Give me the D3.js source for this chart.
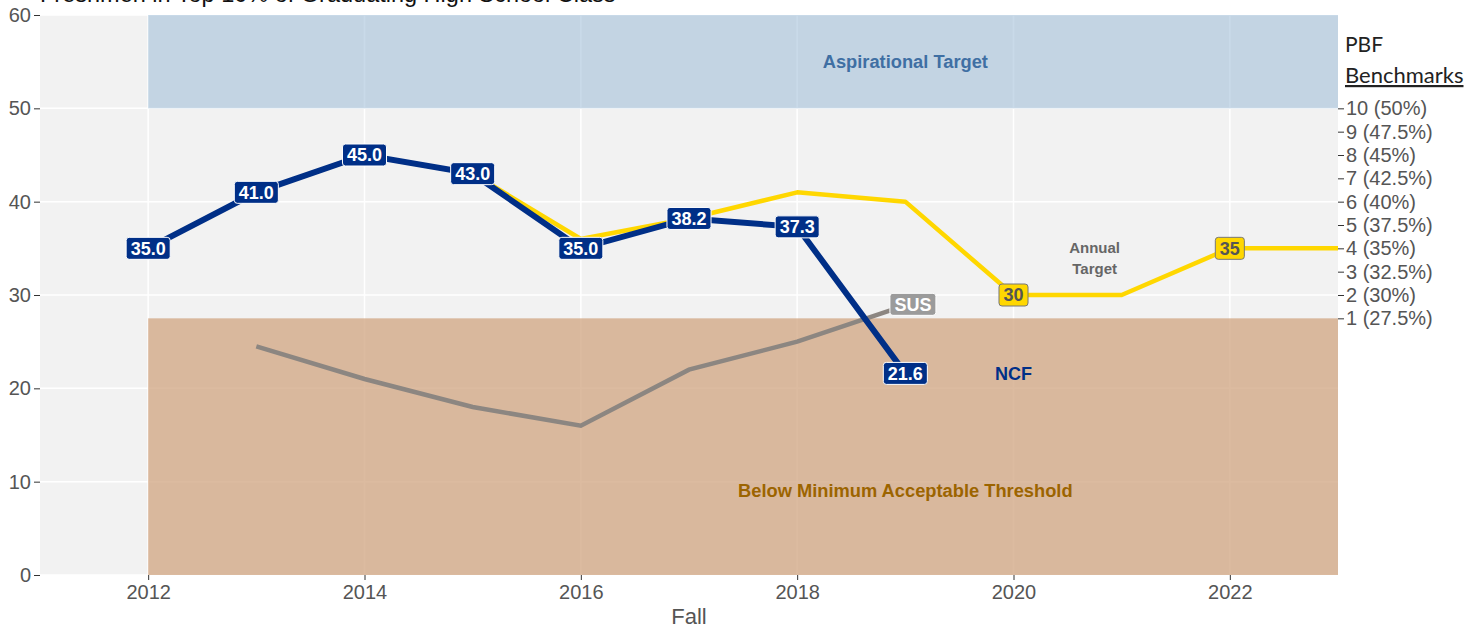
<!DOCTYPE html>
<html>
<head>
<meta charset="utf-8">
<script src="https://cdn.jsdelivr.net/npm/d3@7"></script>
<style>
body { margin: 0; background: #fff; }
svg { font-family: "Liberation Sans", Arial, sans-serif; }
</style>
</head>
<body>
<svg id="chart"></svg>
<script>
var screen = {width: 1467, height: 628};
var margins = {top: 15, right: 129, bottom: 53, left: 40};

// data
var ncfYears = [2012, 2013, 2014, 2015, 2016, 2017, 2018, 2019];
var ncfValues = [35.0, 41.0, 45.0, 43.0, 35.0, 38.2, 37.3, 21.6];
var targetYears = [2012, 2013, 2014, 2015, 2016, 2017, 2018, 2019, 2020, 2021, 2022, 2023];
var targetValues = [35, 41, 45, 43, 36, 38.2, 41, 40, 30, 30, 35, 35];
var susYears = [2013, 2014, 2015, 2016, 2017, 2018, 2019];
var susValues = [24.5, 21, 18, 16, 22, 25, 28.9];
var targetLabelYears = [2020, 2022];
var benchValues = [27.5, 30, 32.5, 35, 37.5, 40, 42.5, 45, 47.5, 50];
var benchLabels = ["1 (27.5%)", "2 (30%)", "3 (32.5%)", "4 (35%)", "5 (37.5%)", "6 (40%)", "7 (42.5%)", "8 (45%)", "9 (47.5%)", "10 (50%)"];
var yTicks = [0, 10, 20, 30, 40, 50, 60];
var xTicks = [2012, 2014, 2016, 2018, 2020, 2022];
var bands = [
  {name: "Aspirational Target", y0: 50, y1: 60, x0: 2012, x1: 2023},
  {name: "Below Minimum Acceptable Threshold", y0: 0, y1: 27.5, x0: 2012, x1: 2023}
];

var width = screen.width - margins.left - margins.right;
var height = screen.height - margins.top - margins.bottom;

var svg = d3.select("#chart")
  .attr("width", screen.width)
  .attr("height", screen.height);

var xScale = d3.scaleLinear().domain([2011, 2023]).range([0, width]);
var yScale = d3.scaleLinear().domain([0, 60]).range([height, 0]);

var g = svg.append("g")
  .attr("transform", "translate(" + margins.left + "," + margins.top + ")");

// panel + grid
g.append("rect").attr("width", width).attr("height", height).attr("fill", "#f2f2f2");
g.selectAll(".hgrid").data(yTicks).enter().append("line")
  .attr("x1", 0).attr("x2", width)
  .attr("y1", function(d) { return yScale(d); })
  .attr("y2", function(d) { return yScale(d); })
  .attr("stroke", "#fff").attr("stroke-width", 1.5);
g.selectAll(".vgrid").data(xTicks).enter().append("line")
  .attr("y1", 0).attr("y2", height)
  .attr("x1", function(d) { return xScale(d); })
  .attr("x2", function(d) { return xScale(d); })
  .attr("stroke", "#fff").attr("stroke-width", 1.5);

// bands
var bandColors = ["rgba(157,188,215,0.55)", "rgba(208,164,128,0.75)"];
g.selectAll(".band").data(bands).enter().append("rect")
  .attr("x", function(d) { return xScale(d.x0); })
  .attr("width", function(d) { return xScale(d.x1) - xScale(d.x0); })
  .attr("y", function(d) { return yScale(d.y1); })
  .attr("height", function(d) { return yScale(d.y0) - yScale(d.y1); })
  .attr("fill", function(d, i) { return bandColors[i]; });

// axes
var xAxis = d3.axisBottom(xScale).tickValues(xTicks).tickFormat(d3.format("d")).tickSize(5).tickPadding(5);
var yAxis = d3.axisLeft(yScale).tickValues(yTicks).tickSize(6).tickPadding(3);
var rAxis = d3.axisRight(yScale).tickValues(benchValues)
  .tickFormat(function(d, i) { return benchLabels[i]; }).tickSize(6).tickPadding(2);

function styleAxis(sel) {
  sel.select(".domain").remove();
  sel.selectAll(".tick line").attr("stroke", "#333");
  sel.selectAll(".tick text").attr("fill", "#555").style("font-size", "20px")
    .style("font-family", "'Liberation Sans', Arial, sans-serif");
}
g.append("g").attr("transform", "translate(0," + height + ")").call(xAxis).call(styleAxis);
g.append("g").call(yAxis).call(styleAxis);
g.append("g").attr("transform", "translate(" + width + ",0)").call(rAxis).call(styleAxis);

// lines
var line = d3.line()
  .x(function(d) { return xScale(d[0]); })
  .y(function(d) { return yScale(d[1]); });

g.append("path").datum(d3.zip(targetYears, targetValues))
  .attr("d", line).attr("fill", "none").attr("stroke", "#ffd700").attr("stroke-width", 4.5)
  .attr("stroke-linejoin", "round");
g.append("path").datum(d3.zip(susYears, susValues))
  .attr("d", line).attr("fill", "none").attr("stroke", "#8c8681").attr("stroke-width", 4.5);
g.append("path").datum(d3.zip(ncfYears, ncfValues))
  .attr("d", line).attr("fill", "none").attr("stroke", "#002f87").attr("stroke-width", 6);

// label boxes
function addLabel(x, y, txt, fill, color, border) {
  var lg = g.append("g").attr("transform", "translate(" + xScale(x) + "," + yScale(y) + ")");
  var r = lg.append("rect");
  var t = lg.append("text").text(txt)
    .attr("text-anchor", "middle").attr("dy", "0.36em")
    .style("font-size", "18px").style("font-weight", "bold").attr("fill", color);
  var w = t.node().getComputedTextLength() + 9;
  r.attr("x", -w / 2).attr("y", -11).attr("width", w).attr("height", 22)
    .attr("rx", 3).attr("fill", fill).attr("stroke", border).attr("stroke-width", 1);
}
ncfYears.forEach(function(yr, i) {
  addLabel(yr, ncfValues[i], ncfValues[i].toFixed(1), "#002f87", "#fff", "#fff");
});
targetLabelYears.forEach(function(yr) {
  var v = targetValues[targetYears.indexOf(yr)];
  addLabel(yr, v, String(v), "#ffd700", "#555", "#777");
});
addLabel(2019.07, susValues[susValues.length - 1] + 0.1, "SUS", "#9b9b9b", "#fff", "#fff");

// annotations
g.append("text").text("Aspirational Target")
  .attr("x", xScale(2019)).attr("y", yScale(55)).attr("dy", "0.35em")
  .attr("text-anchor", "middle").attr("fill", "#3f6fa3")
  .style("font-size", "18.3px").style("font-weight", "bold");
g.append("text").text("Below Minimum Acceptable Threshold")
  .attr("x", xScale(2019)).attr("y", yScale(9)).attr("dy", "0.35em")
  .attr("text-anchor", "middle").attr("fill", "#9c6400")
  .style("font-size", "18.3px").style("font-weight", "bold");
g.append("text").text("NCF")
  .attr("x", xScale(2020)).attr("y", yScale(21.6)).attr("dy", "0.35em")
  .attr("text-anchor", "middle").attr("fill", "#002f87")
  .style("font-size", "18px").style("font-weight", "bold");
var at = g.append("text").attr("text-anchor", "middle").attr("fill", "#666")
  .style("font-size", "15px").style("font-weight", "bold");
at.append("tspan").text("Annual").attr("x", xScale(2020.75)).attr("y", yScale(35.1)).attr("dy", "0.35em");
at.append("tspan").text("Target").attr("x", xScale(2020.75)).attr("y", yScale(32.8)).attr("dy", "0.35em");

// titles
svg.append("text").text("Freshmen in Top 10% of Graduating High School Class")
  .attr("x", 40).attr("y", 2).attr("fill", "#111").style("font-size", "23.5px");
svg.append("text").text("Fall")
  .attr("x", margins.left + width / 2).attr("y", 624)
  .attr("text-anchor", "middle").attr("fill", "#555").style("font-size", "22px");
svg.append("text").text("PBF")
  .attr("x", 1345).attr("y", 52).attr("fill", "#222")
  .style("font-family", "Lato, sans-serif").style("font-size", "21px");
svg.append("text").text("Benchmarks")
  .attr("x", 1345).attr("y", 83).attr("fill", "#222")
  .attr("text-decoration", "underline")
  .style("font-family", "Lato, sans-serif").style("font-size", "22px");
</script>
</body>
</html>
